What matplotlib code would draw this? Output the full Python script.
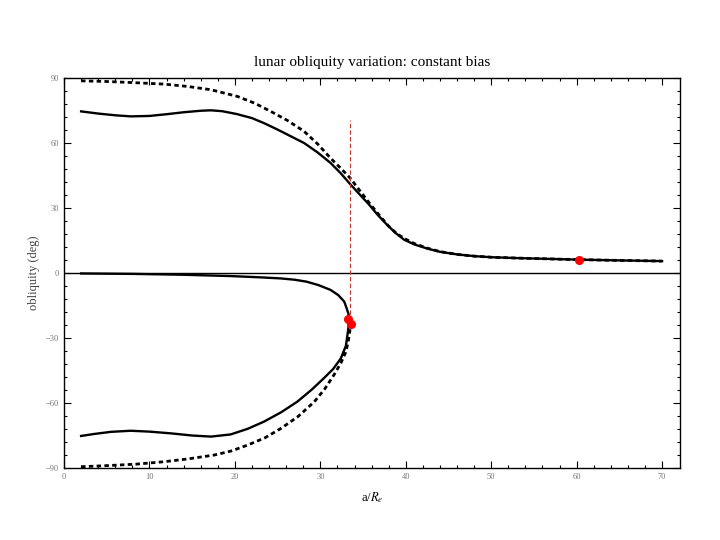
import matplotlib.pyplot as plt
import numpy as np

# upper branch (solid) and its dotted comparison curve
x_up = [2, 4, 6, 7.8, 10, 12, 14, 16, 17.2, 18.5, 20.2, 22, 23.4, 25, 26.5, 28.1, 29.7, 31.2, 32.4, 33.5,
        34.6, 35.7, 36.7, 37.8, 38.8, 39.8, 41, 42.5, 44, 46, 48, 50, 53, 56, 60, 64, 67, 70]
y_up = [74.6, 73.6, 72.8, 72.3, 72.5, 73.3, 74.2, 74.9, 75.1, 74.7, 73.4, 71.5, 69.2, 66.2, 63.2, 60, 55.6, 50.8, 46, 41,
        36.3, 31.6, 26.9, 22.3, 18.5, 15.4, 13.2, 11.3, 9.8, 8.6, 7.8, 7.3, 6.9, 6.6, 6.2, 5.9, 5.7, 5.5]

x_up_dot = [2, 5, 8, 11.7, 14.5, 17.2, 20.3, 22.3, 24.2, 26.2, 28.1, 29.7, 31.2, 32.4, 33.5, 34.7, 35.9,
            37, 38, 39, 40, 41, 42.5, 44, 46, 48, 50, 53, 56, 60, 64, 67, 70]
y_up_dot = [88.7, 88.4, 87.9, 87.2, 86.1, 84.6, 81.5, 78.4, 74.6, 70.3, 65.4, 59.5, 53, 48.3, 43.8, 37.6, 31.5,
            26.2, 21.6, 18, 15.6, 13.6, 11.5, 9.9, 8.6, 7.8, 7.3, 6.9, 6.6, 6.2, 5.9, 5.7, 5.5]

# lower branch (solid): out along the near-zero curve, back along the deep curve
x_lo = [2, 8, 14, 19.5, 23, 25.4, 27, 28.4, 29.8, 31.2, 32.1, 32.8, 33.1, 33.3, 33.35, 33.3,
        33.0, 32.4, 31.5, 30.4, 29, 27.3, 25.4, 23.4, 21.5, 19.5, 17.2, 15, 12.5, 10, 7.8, 5.5, 3.5, 2]
y_lo = [-0.2, -0.4, -0.8, -1.4, -2, -2.5, -3.1, -4, -5.6, -7.8, -10.2, -13.2, -16.5, -19, -21.4, -25,
        -33.5, -39.4, -44.3, -48.6, -53.8, -59.4, -64.3, -68.6, -71.9, -74.5, -75.5, -75, -74, -73.2, -72.8, -73.3, -74.3, -75.2]

x_lo_dot = [2, 5, 8.5, 11.7, 14.5, 17.6, 19.6, 21.5, 23.5, 25.4, 27.4, 29.3, 30.5, 31.6, 32.4, 33,
            33.3, 33.5]
y_lo_dot = [-89.4, -88.9, -88.2, -87.1, -85.8, -84, -82.1, -79.4, -76.1, -71.7, -66.2, -59.4, -53.6, -47, -41.6, -36.3,
            -30.8, -25.5]

# critical points
x_pts = [33.2, 33.6, 60.3]
y_pts = [-21.4, -23.7, 6.1]
x_crit = 33.5
crit_range = [-22, 70.5]

plt.rcParams['font.family'] = ['Liberation Serif', 'DejaVu Serif']
plt.rcParams['mathtext.fontset'] = 'stix'

fig = plt.figure(figsize=(7.2, 5.4), dpi=100)
ax = fig.add_axes([0.0889, 0.1333, 0.8556, 0.7222])

ax.axhline(0, color="black", lw=1.0)
ax.plot(x_up_dot, y_up_dot, color="black", lw=2.0, linestyle=(0, (1.6, 1.2)))
ax.plot(x_lo_dot, y_lo_dot, color="black", lw=2.0, linestyle=(0, (1.6, 1.2)))
ax.plot(x_up, y_up, color="black", lw=1.7)
ax.plot(x_lo, y_lo, color="black", lw=1.7)
ax.plot([x_crit, x_crit], crit_range, color="#c0392b", lw=0.8, linestyle=(0, (4, 2)))
ax.plot(x_pts, y_pts, "o", color="red", ms=5.5, zorder=5)

ax.set_xlim(0, 72.1)
ax.set_ylim(-90, 90)
ax.set_xticks(np.arange(0, 71, 10))
ax.set_xticks(np.arange(0, 72, 2), minor=True)
ax.set_yticks(np.arange(-90, 91, 30))
ax.set_yticks(np.arange(-90, 91, 6), minor=True)
ax.tick_params(which="both", direction="in", top=True, right=True,
               labelsize=6, labelcolor="#777777", width=0.8)
ax.tick_params(which="major", length=5)
ax.tick_params(which="minor", length=2.5)
for s in ax.spines.values():
    s.set_linewidth(1.0)

ax.set_title("lunar obliquity variation: constant bias", fontsize=11, pad=9)
ax.set_ylabel("obliquity (deg)", fontsize=9, color="#444444", labelpad=4)
ax.set_xlabel(r"a/$R_e$", fontsize=9, labelpad=7)

fig.savefig("out.png", dpi=100)
